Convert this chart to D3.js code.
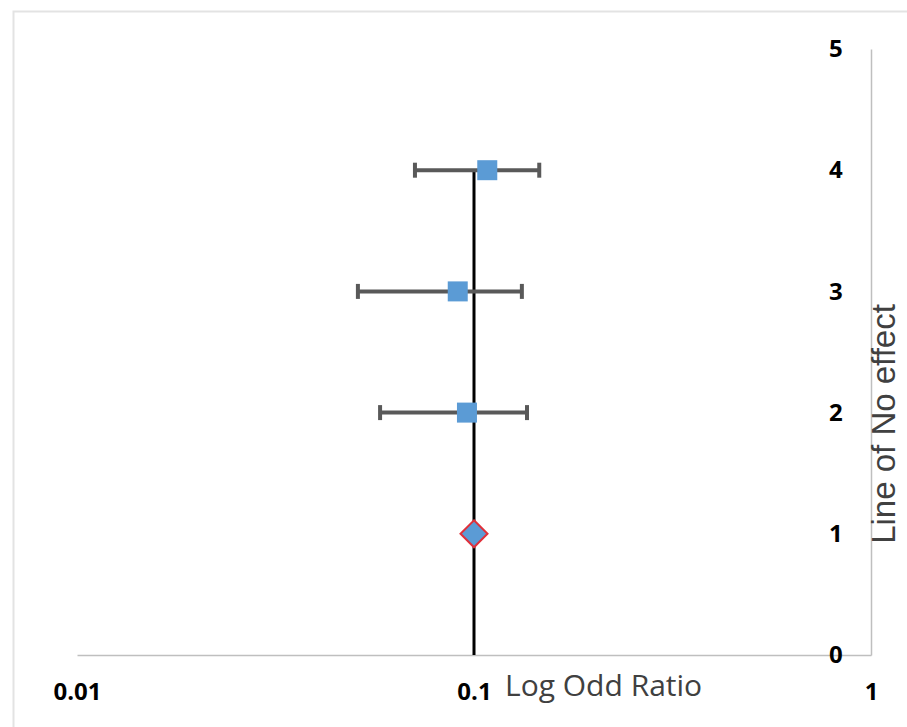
<!DOCTYPE html>
<html lang="en">
<head>
<meta charset="UTF-8">
<title>forest-plot</title>
<style>
  body { margin: 0; background: #fff; }
</style>
</head>
<body>
<div id="container"></div>
<script src="https://d3js.org/d3.v7.min.js"></script>
<script>
// study rows (y position) and their odds ratios with confidence limits
var rows = [4, 3, 2];
var oddsRatio = [0.108, 0.091, 0.096];
var ciLow = [0.071, 0.051, 0.058];
var ciHigh = [0.146, 0.132, 0.136];

// pooled estimate
var pooledRow = [1];
var pooledValue = [0.1];

// line of no effect
var noEffectValue = 0.1;
var noEffectRows = [0, 4];

var xTicks = [0.01, 0.1, 1];
var yTicks = [0, 1, 2, 3, 4, 5];

var width = 907, height = 727;
var plot = {left: 77, right: 871, top: 49, bottom: 655};

var svg = d3.select("#container").append("svg")
    .attr("width", width)
    .attr("height", height);

// faint chart border (runs off the right and bottom edges)
svg.append("rect")
    .attr("x", 13.5).attr("y", 11.5)
    .attr("width", width).attr("height", height)
    .attr("fill", "none")
    .attr("stroke", "#e3e3e3")
    .attr("stroke-width", 2);

var x = d3.scaleLog().domain([0.01, 1]).range([plot.left, plot.right]);
var y = d3.scaleLinear().domain([0, 5]).range([plot.bottom, plot.top]);

// x axis line + labels
var xAxis = svg.append("g")
    .attr("transform", "translate(0," + plot.bottom + ")")
    .call(d3.axisBottom(x).tickValues(xTicks).tickSize(0).tickPadding(28)
        .tickFormat(function(d) { return String(d); }));
xAxis.select(".domain").attr("stroke", "#bfbfbf").attr("stroke-width", 1.5);
xAxis.selectAll("text")
    .attr("font-family", "'Open Sans', sans-serif")
    .attr("font-weight", "bold")
    .attr("font-size", 24)
    .attr("fill", "#000");

// y axis on the right, labels on its left side
var yAxis = svg.append("g")
    .attr("transform", "translate(" + plot.right + ",0)")
    .call(d3.axisLeft(y).tickValues(yTicks).tickSize(0).tickPadding(28)
        .tickFormat(d3.format("d")));
yAxis.select(".domain").attr("stroke", "#bfbfbf").attr("stroke-width", 1.5);
yAxis.selectAll("text")
    .attr("font-family", "'Open Sans', sans-serif")
    .attr("font-weight", "bold")
    .attr("font-size", 24)
    .attr("fill", "#000")
    .attr("text-anchor", "middle")
    .attr("dx", "-0.3em");

// line of no effect
svg.append("line")
    .attr("x1", x(noEffectValue)).attr("x2", x(noEffectValue))
    .attr("y1", y(noEffectRows[0])).attr("y2", y(noEffectRows[1]))
    .attr("stroke", "#000")
    .attr("stroke-width", 3);

// error bars
var bars = svg.append("g").selectAll("g")
    .data(rows)
    .enter().append("g");

bars.append("line")
    .attr("x1", function(d, i) { return x(ciLow[i]); })
    .attr("x2", function(d, i) { return x(ciHigh[i]); })
    .attr("y1", function(d) { return y(d); })
    .attr("y2", function(d) { return y(d); })
    .attr("stroke", "#595959")
    .attr("stroke-width", 4);

[ciLow, ciHigh].forEach(function(arr) {
  bars.append("line")
      .attr("x1", function(d, i) { return x(arr[i]); })
      .attr("x2", function(d, i) { return x(arr[i]); })
      .attr("y1", function(d) { return y(d) - 7.5; })
      .attr("y2", function(d) { return y(d) + 7.5; })
      .attr("stroke", "#595959")
      .attr("stroke-width", 4);
});

// square markers
bars.append("rect")
    .attr("x", function(d, i) { return x(oddsRatio[i]) - 10; })
    .attr("y", function(d) { return y(d) - 10; })
    .attr("width", 20)
    .attr("height", 20)
    .attr("fill", "#5b9bd5");

// pooled diamond
svg.append("g").selectAll("path")
    .data(pooledRow)
    .enter().append("path")
    .attr("transform", function(d, i) {
      return "translate(" + x(pooledValue[i]) + "," + y(d) + ")";
    })
    .attr("d", "M0,-13.5L13.5,0L0,13.5L-13.5,0Z")
    .attr("fill", "#5b9bd5")
    .attr("stroke", "#e0303a")
    .attr("stroke-width", 2);

// axis titles
svg.append("text")
    .attr("x", 505)
    .attr("y", 696)
    .attr("font-family", "'Open Sans', sans-serif")
    .attr("font-size", 30)
    .attr("fill", "#404040")
    .text("Log Odd Ratio");

svg.append("text")
    .attr("transform", "translate(895,424) rotate(-90)")
    .attr("text-anchor", "middle")
    .attr("font-family", "'Liberation Sans', Arial, sans-serif")
    .attr("font-size", 33)
    .attr("fill", "#404040")
    .text("Line of No effect");
</script>
</body>
</html>
